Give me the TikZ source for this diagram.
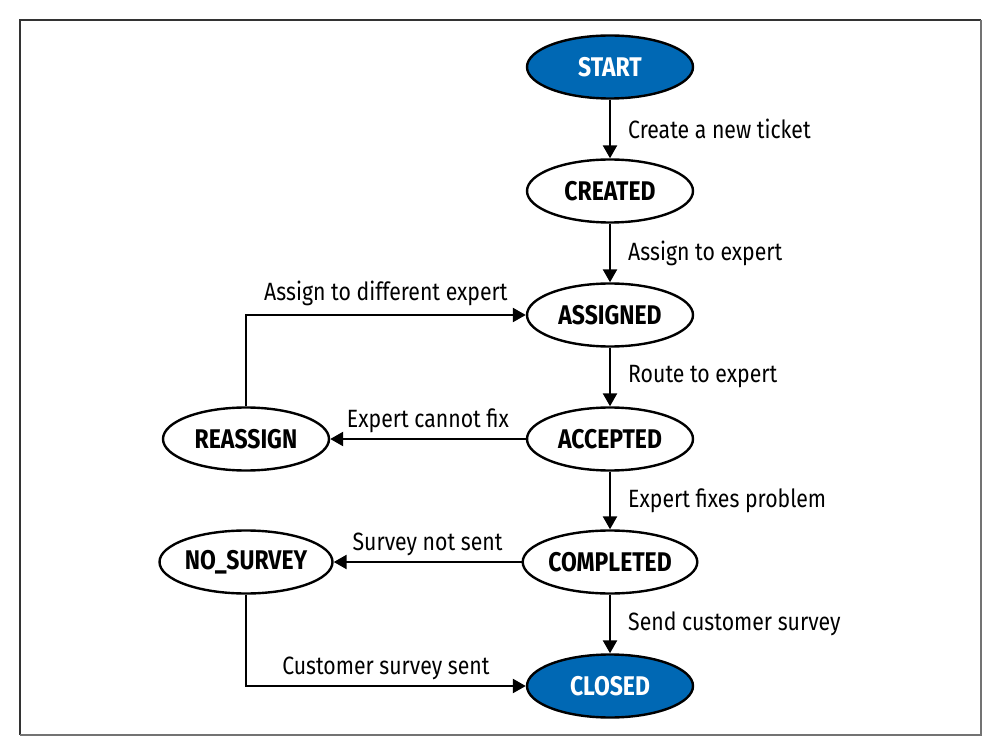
\documentclass[tikz,border=0pt]{standalone}
\usepackage{fontspec}
\setmainfont{Fira Sans}[FakeStretch=0.85]
\usetikzlibrary{arrows.meta,shapes.geometric}

\definecolor{stateblue}{RGB}{0,104,180}

\tikzset{
  state/.style={draw, ellipse, line width=1.2pt, minimum width=83pt, minimum height=31.5pt, inner sep=0pt, font=\bfseries\fontsize{13.5}{15}\selectfont},
  endstate/.style={state, fill=stateblue, text=white},
  trans/.style={line width=1.2pt, -{Triangle[length=6.5pt,width=7pt]}},
  tlabel/.style={font=\fontsize{12.5}{14}\selectfont, inner sep=0pt},
}

\begin{document}
\begin{tikzpicture}[x=0.5pt,y=-0.5pt]

\useasboundingbox (0,0) rectangle (995,748);

\draw[black!80, line width=0.8pt] (20,735) -- (20,20) -- (981,20);
\draw[black!55, line width=0.8pt] (981,20) -- (981,735) -- (20,735);

\node[endstate] (start) at (610,67) {START};
\node[state] (created) at (610,191) {CREATED};
\node[state] (assigned) at (610,315) {ASSIGNED};
\node[state] (accepted) at (610,439) {ACCEPTED};
\node[state] (completed) at (610,562) {COMPLETED};
\node[endstate] (closed) at (610,686) {CLOSED};

\node[state] (reassign) at (246,439) {REASSIGN};
\node[state] (nosurvey) at (246,562) {NO\_SURVEY};

\draw[trans] (start) -- node[tlabel, right=8.5pt] (lcreate) {Create a new ticket} (created);
\draw[trans] (created) -- node[tlabel, right=8.5pt] (lassign) {Assign to expert} (assigned);
\draw[trans] (assigned) -- node[tlabel, right=8.5pt] (lroute) {Route to expert} (accepted);
\draw[trans] (accepted) -- node[tlabel, right=8.5pt] (lfix) {Expert fixes problem} (completed);
\draw[trans] (completed) -- node[tlabel, right=8.5pt] (lsend) {Send customer survey} (closed);

\draw[trans] (accepted) -- node[tlabel, above=2.5pt] (lcannot) {Expert cannot fix} (reassign);
\draw[trans] (completed) -- node[tlabel, above=2.5pt] (lnotsent) {Survey not sent} (nosurvey);

\draw[trans] (reassign) |- node[tlabel, pos=0.75, above=4pt] (ldifferent) {Assign to different expert} (assigned);
\draw[trans] (nosurvey) |- node[tlabel, pos=0.75, above=2.5pt] (lsent) {Customer survey sent} (closed);

\end{tikzpicture}
\end{document}
